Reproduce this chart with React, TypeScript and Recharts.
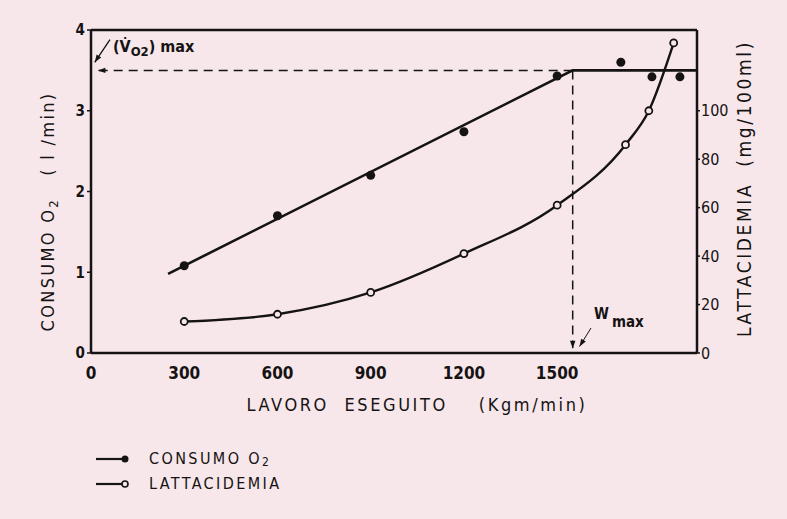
import { ComposedChart, Line, Scatter, XAxis, YAxis, ReferenceLine } from 'recharts';

const BG = '#f7e7ea';
const INK = '#151313';
const FONT = '"DejaVu Sans Condensed", "Liberation Sans Narrow", "DejaVu Sans", sans-serif';

// axis ticks
const workTicks = [0, 300, 600, 900, 1200, 1500];
const o2Ticks = [0, 1, 2, 3, 4];
const lacTicks = [0, 20, 40, 60, 80, 100];

// consumo O2 (l/min), measured points
const o2Work = [300, 600, 900, 1200, 1500, 1705, 1805, 1895];
const o2Values = [1.08, 1.7, 2.2, 2.74, 3.43, 3.6, 3.42, 3.42];

// consumo O2 fitted line (rise then plateau at VO2 max)
const fitWork = [248, 1550, 1950];
const fitValues = [0.98, 3.5, 3.5];

// lattacidemia (mg/100ml)
const lacWork = [300, 600, 900, 1200, 1500, 1720, 1795, 1875];
const lacValues = [13, 16, 25, 41, 61, 86, 100, 128];

const vo2Max = 3.5;
const wMax = 1550;

const o2Points = o2Work.map((x, i) => ({ x, y: o2Values[i] }));
const fitPoints = fitWork.map((x, i) => ({ x, y: fitValues[i] }));
const lacPoints = lacWork.map((x, i) => ({ x, y: lacValues[i] }));

function arrow(dash?: string, label?: (x: number, y: number) => React.ReactNode, width = 1.5) {
  return (p: any) => {
    const { x1, y1, x2, y2 } = p;
    const a = Math.atan2(y2 - y1, x2 - x1);
    const s = 8;
    const h1 = [x2 - s * Math.cos(a - 0.35), y2 - s * Math.sin(a - 0.35)];
    const h2 = [x2 - s * Math.cos(a + 0.35), y2 - s * Math.sin(a + 0.35)];
    return (
      <g>
        <line x1={x1} y1={y1} x2={x2} y2={y2} stroke={INK} strokeWidth={width} strokeDasharray={dash} />
        <polygon points={`${x2},${y2} ${h1[0]},${h1[1]} ${h2[0]},${h2[1]}`} fill={INK} />
        {label && label(x1, y1)}
      </g>
    );
  };
}

const vo2Label = (x: number, y: number) => (
  <text x={x + 3} y={y + 12} fontFamily={FONT} fontSize={16} fontWeight="bold" fill={INK}>
    (V̇<tspan fontSize={13} dy={4}>O2</tspan>
    <tspan dy={-4}>) max</tspan>
  </text>
);

const wLabel = (x: number, y: number) => (
  <text x={x + 3} y={y - 9} fontFamily={FONT} fontSize={15} fontWeight="bold" fill={INK}>
    W<tspan dx={3} dy={8}>max</tspan>
  </text>
);

export default function App() {
  return (
    <div style={{ position: 'fixed', left: 0, top: 0, width: 787, height: 519, background: BG }}>
      <ComposedChart width={787} height={519} margin={{ top: 30, right: 40, bottom: 136, left: 41 }}>
        <XAxis
          type="number"
          dataKey="x"
          domain={[0, 1950]}
          allowDataOverflow
          ticks={workTicks}
          tickLine={false}
          tickSize={6}
          tickMargin={8}
          height={30}
          axisLine={{ stroke: INK, strokeWidth: 2.5 }}
          tick={{ fill: INK, fontSize: 17, fontFamily: FONT, fontWeight: 600 }}
          label={{
            content: (props: any) => {
              const { x, y, width } = props.viewBox;
              return (
                <text x={x + width / 2 + 23} y={y + 58} textAnchor="middle" fontFamily={FONT} fontSize={18} letterSpacing={2.6} fill={INK}>
                  LAVORO&#160;&#160;ESEGUITO&#160;&#160;&#160;&#160;(Kgm/min)
                </text>
              );
            },
          }}
        />
        <YAxis
          yAxisId="left"
          domain={[0, 4]}
          allowDataOverflow
          ticks={o2Ticks}
          width={50}
          tickSize={4}
          tickMargin={2}
          axisLine={{ stroke: INK, strokeWidth: 2.5 }}
          tickLine={{ stroke: INK, strokeWidth: 1.5 }}
          tick={{ fill: INK, fontSize: 15, fontFamily: FONT, fontWeight: 'bold' }}
          label={{
            content: (props: any) => {
              const { x, y, height } = props.viewBox;
              return (
                <text
                  transform={`translate(${x + 13},${y + height / 2 + 20}) rotate(-90)`}
                  textAnchor="middle"
                  fontFamily={FONT}
                  fontSize={18}
                  letterSpacing={2.3}
                  fill={INK}
                >
                  CONSUMO O<tspan fontSize={13} dy={4}>2</tspan>
                  <tspan dy={-4}>&#160;&#160;&#160;( l /min)</tspan>
                </text>
              );
            },
          }}
        />
        <YAxis
          yAxisId="right"
          orientation="right"
          domain={[0, 133.33]}
          allowDataOverflow
          ticks={lacTicks}
          width={50}
          tickSize={3}
          tickMargin={1}
          axisLine={{ stroke: INK, strokeWidth: 2.5 }}
          tickLine={{ stroke: INK, strokeWidth: 1.5 }}
          tick={{ fill: INK, fontSize: 16, fontFamily: FONT }}
          label={{
            content: (props: any) => {
              const { x, y, height } = props.viewBox;
              return (
                <text
                  transform={`translate(${x + 54},${y + height / 2 - 3}) rotate(-90)`}
                  textAnchor="middle"
                  fontFamily={FONT}
                  fontSize={19}
                  letterSpacing={2.6}
                  fill={INK}
                >
                  LATTACIDEMIA&#160;&#160;(mg/100ml)
                </text>
              );
            },
          }}
        />

        {/* frame top */}
        <ReferenceLine yAxisId="left" y={4} stroke={INK} strokeWidth={2.5} />

        {/* VO2 max and W max guides */}
        <ReferenceLine
          yAxisId="left"
          segment={[{ x: wMax, y: vo2Max }, { x: 22, y: vo2Max }]}
          shape={arrow('9 6')}
        />
        <ReferenceLine
          yAxisId="left"
          segment={[{ x: wMax, y: vo2Max }, { x: wMax, y: 0.06 }]}
          shape={arrow('9 6')}
        />
        <ReferenceLine
          yAxisId="left"
          segment={[{ x: 61, y: 3.88 }, { x: 12, y: 3.6 }]}
          shape={arrow(undefined, vo2Label, 1.3)}
        />
        <ReferenceLine
          yAxisId="left"
          segment={[{ x: 1609, y: 0.31 }, { x: 1572, y: 0.08 }]}
          shape={arrow(undefined, wLabel, 1)}
        />

        <Line
          yAxisId="left"
          data={fitPoints}
          dataKey="y"
          type="linear"
          stroke={INK}
          strokeWidth={2.6}
          dot={false}
          isAnimationActive={false}
        />
        <Scatter
          yAxisId="left"
          data={o2Points}
          dataKey="y"
          shape={(p: any) => <circle cx={p.cx} cy={p.cy} r={4.5} fill={INK} />}
          isAnimationActive={false}
        />
        <Line
          yAxisId="right"
          data={lacPoints}
          dataKey="y"
          type="monotone"
          stroke={INK}
          strokeWidth={2.4}
          dot={{ r: 3.5, fill: BG, stroke: INK, strokeWidth: 1.8 }}
          isAnimationActive={false}
        />
      </ComposedChart>

      <div style={{ position: 'absolute', left: 95, top: 446, fontFamily: FONT, fontSize: 16, color: INK, letterSpacing: 2.4 }}>
        <div style={{ display: 'flex', alignItems: 'center', height: 25 }}>
          <svg width={54} height={12}>
            <line x1={1} y1={6} x2={30} y2={6} stroke={INK} strokeWidth={2.2} />
            <circle cx={30} cy={6} r={3.5} fill={INK} />
          </svg>
          <span>
            CONSUMO O<sub style={{ fontSize: 12, verticalAlign: '-2px' }}>2</sub>
          </span>
        </div>
        <div style={{ display: 'flex', alignItems: 'center', height: 25 }}>
          <svg width={54} height={12}>
            <line x1={1} y1={6} x2={27} y2={6} stroke={INK} strokeWidth={2.2} />
            <circle cx={30} cy={6} r={3} fill={BG} stroke={INK} strokeWidth={1.6} />
          </svg>
          <span>LATTACIDEMIA</span>
        </div>
      </div>
    </div>
  );
}
